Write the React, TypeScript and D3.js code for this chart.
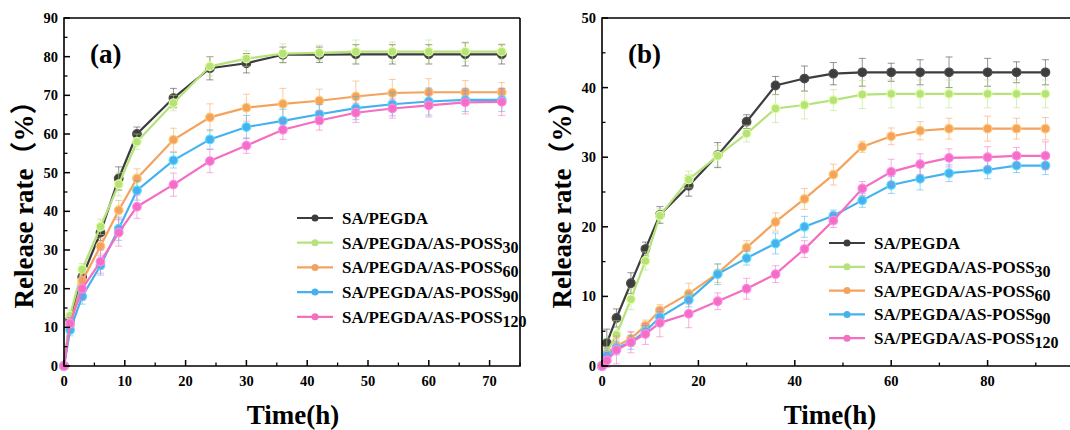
import React from 'react'
import * as d3 from 'd3'

// panel (a) data
const timeA = [0, 1, 3, 6, 9, 12, 18, 24, 30, 36, 42, 48, 54, 60, 66, 72]
const a0 = [0, 12, 23, 34.5, 48.5, 60, 69.3, 77, 78.3, 80.5, 80.5, 80.6, 80.6, 80.6, 80.6, 80.6]
const a30 = [0, 13, 25, 36, 47, 58, 68, 77.5, 79.5, 80.8, 81, 81.3, 81.3, 81.3, 81.3, 81.3]
const a60 = [0, 10.5, 22, 31, 40.3, 48.5, 58.5, 64.3, 66.8, 67.8, 68.6, 69.7, 70.6, 70.8, 70.8, 70.8]
const a90 = [0, 9.3, 18, 26, 35.5, 45.4, 53.2, 58.6, 61.8, 63.4, 65.1, 66.7, 67.7, 68.4, 68.8, 68.8]
const a120 = [0, 11, 20, 27, 34.5, 41.2, 46.9, 53, 57, 61.1, 63.5, 65.5, 66.6, 67.4, 68.2, 68.3]
const errA0 = [0, 1.5, 2, 2, 3, 1.8, 2.5, 3, 2.5, 2, 2, 2.5, 2.5, 2.5, 3, 2.5]
const errA30 = [0, 1.5, 1.5, 2, 3, 2, 2, 2.5, 2, 2.5, 2, 3, 2.5, 3, 2.5, 2]
const errA60 = [0, 2, 2, 2, 2.5, 2.5, 3, 3.5, 3.5, 4, 3, 4, 3.5, 3.5, 3, 2.5]
const errA90 = [0, 1.5, 2, 2.5, 3, 2.5, 2, 2.5, 3, 3, 2.5, 3, 3, 3.5, 3, 3]
const errA120 = [0, 1.5, 3, 3, 3.5, 3, 3, 3, 2, 2.5, 2.5, 2.5, 2.5, 3, 3, 3.5]

// panel (b) data
const timeB = [0, 1, 3, 6, 9, 12, 18, 24, 30, 36, 42, 48, 54, 60, 66, 72, 80, 86, 92]
const b0 = [0, 3.3, 6.9, 11.9, 16.8, 21.7, 25.9, 30.3, 35.1, 40.3, 41.3, 42, 42.2, 42.2, 42.2, 42.2, 42.2, 42.2, 42.2]
const b30 = [0, 2, 4.5, 9.6, 15.1, 21.6, 26.8, 30.2, 33.4, 37, 37.5, 38.2, 39, 39.1, 39.1, 39.1, 39.1, 39.1, 39.1]
const b60 = [0, 1.8, 2.9, 3.9, 5.8, 8, 10.4, 13.3, 17, 20.7, 24, 27.5, 31.5, 33, 33.8, 34.1, 34.1, 34.1, 34.1]
const b90 = [0, 1.5, 2.6, 3.4, 5, 7, 9.5, 13.2, 15.5, 17.6, 20, 21.6, 23.8, 26, 26.9, 27.7, 28.2, 28.8, 28.8]
const b120 = [0, 0.8, 2.3, 3.4, 4.6, 6.2, 7.5, 9.3, 11.1, 13.2, 16.8, 20.9, 25.5, 27.9, 29, 29.9, 30, 30.2, 30.2]
const errB0 = [0, 2, 1.3, 1.5, 1, 1.2, 1.5, 1.8, 1, 1.3, 1.8, 1.6, 2, 1.3, 1.8, 2.2, 2, 1.5, 1.8]
const errB30 = [0, 2, 2, 1.5, 1.3, 1, 1.2, 1.5, 1.2, 2, 2, 1.5, 2, 2, 2, 2, 2, 2, 2]
const errB60 = [0, 1, 1, 1, 0.8, 0.8, 1.5, 1.3, 1, 1.3, 1.5, 1.5, 0.8, 1.2, 1.3, 1.5, 1.8, 1.5, 1.6]
const errB90 = [0, 1, 1, 1, 0.8, 0.8, 1, 1.5, 1, 1.5, 1.5, 0.8, 1, 1.2, 1.6, 1.2, 1.3, 1, 1.3]
const errB120 = [0, 1, 2, 1.5, 1.5, 2, 2, 1.2, 1.5, 1.2, 1.2, 1, 1, 1.8, 1.5, 1.3, 1.5, 1.2, 2]

const seriesNames = ['', '30', '60', '90', '120']
const colors = ['#3d3d3d', '#b6e27c', '#f4a35e', '#45b2ef', '#f46ec2']

const ticksA_x = [0, 10, 20, 30, 40, 50, 60, 70]
const ticksA_y = [0, 10, 20, 30, 40, 50, 60, 70, 80, 90]
const ticksB_x = [0, 20, 40, 60, 80]
const ticksB_y = [0, 10, 20, 30, 40, 50]

const FONT = '"Liberation Serif", "Times New Roman", "Noto Sans CJK SC", serif'

type PanelProps = {
  label: string
  time: number[]
  series: number[][]
  errs: number[][]
  xDomain: [number, number]
  yDomain: [number, number]
  left: number
  right: number
  xTicks: number[]
  yTicks: number[]
  xMinorStep: number
  yMinorStep: number
  legendX: number
  legendY: number
  legendGap: number
  titleX: number
  xTitleX: number
}

const Panel = (p: PanelProps) => {
  const top = 18, bottom = 366
  const x = d3.scaleLinear().domain(p.xDomain).range([p.left, p.right])
  const y = d3.scaleLinear().domain(p.yDomain).range([bottom, top])
  const line = d3.line<[number, number]>().x(d => x(d[0])).y(d => y(d[1]))
  const xMinor = d3.range(p.xDomain[0], p.xDomain[1] + 0.001, p.xMinorStep).filter(v => !p.xTicks.includes(v))
  const yMinor = d3.range(p.yDomain[0], p.yDomain[1] + 0.001, p.yMinorStep).filter(v => !p.yTicks.includes(v))
  const frameRight = Math.min(p.right, 1075)

  return (
    <g fontFamily={FONT} fontWeight="bold">
      {/* series */}
      {p.series.map((vals, si) => (
        <g key={si}>
          {vals.map((v, i) => p.errs[si][i] > 0 && (
            <g key={i} stroke={colors[si]} strokeOpacity={0.55} strokeWidth={1}>
              <line x1={x(p.time[i])} x2={x(p.time[i])} y1={y(v - p.errs[si][i])} y2={y(v + p.errs[si][i])} />
              <line x1={x(p.time[i]) - 3.5} x2={x(p.time[i]) + 3.5} y1={y(v - p.errs[si][i])} y2={y(v - p.errs[si][i])} />
              <line x1={x(p.time[i]) - 3.5} x2={x(p.time[i]) + 3.5} y1={y(v + p.errs[si][i])} y2={y(v + p.errs[si][i])} />
            </g>
          ))}
          <path d={line(vals.map((v, i) => [p.time[i], v] as [number, number])) || ''} fill="none" stroke={colors[si]} strokeWidth={2.2} />
          {vals.map((v, i) => (
            <circle key={i} cx={x(p.time[i])} cy={y(v)} r={4.3} fill={colors[si]} stroke={d3.color(colors[si])!.brighter(0.6).toString()} strokeWidth={1.2} />
          ))}
        </g>
      ))}

      {/* frame */}
      <path d={`M${frameRight},${top}H${p.left}V${bottom}H${frameRight}${p.right <= 1075 ? `V${top}` : ''}`} fill="none" stroke="#000" strokeWidth={1.6} />

      {/* ticks */}
      {p.xTicks.map(t => (
        <g key={t}>
          <line x1={x(t)} x2={x(t)} y1={bottom} y2={bottom - 6} stroke="#000" strokeWidth={1.5} />
          <text x={x(t)} y={386} fontSize={14.5} textAnchor="middle">{t}</text>
        </g>
      ))}
      {xMinor.map(t => (
        <line key={t} x1={x(t)} x2={x(t)} y1={bottom} y2={bottom - 3.5} stroke="#000" strokeWidth={1.3} />
      ))}
      {p.yTicks.map(t => (
        <g key={t}>
          <line x1={p.left} x2={p.left + 6} y1={y(t)} y2={y(t)} stroke="#000" strokeWidth={1.5} />
          <text x={p.left - 6} y={y(t) + 5} fontSize={14.5} textAnchor="end">{t}</text>
        </g>
      ))}
      {yMinor.map(t => (
        <line key={t} x1={p.left} x2={p.left + 3.5} y1={y(t)} y2={y(t)} stroke="#000" strokeWidth={1.3} />
      ))}

      {/* titles */}
      <text transform={`translate(${p.titleX},198) rotate(-90)`} fontSize={27} textAnchor="middle" dominantBaseline="central">Release rate（%）</text>
      <text x={p.xTitleX} y={424} fontSize={27} textAnchor="middle">Time(h)</text>
      <text x={p.left + 26} y={63} fontSize={27}>{p.label}</text>

      {/* legend */}
      {seriesNames.map((n, i) => {
        const ly = p.legendY + i * p.legendGap
        return (
          <g key={i}>
            <line x1={p.legendX} x2={p.legendX + 36} y1={ly} y2={ly} stroke={colors[i]} strokeWidth={2.2} />
            <circle cx={p.legendX + 18} cy={ly} r={3.5} fill={colors[i]} />
            <text x={p.legendX + 45} y={ly + 6} fontSize={17}>
              {n === '' ? 'SA/PEGDA' : 'SA/PEGDA/AS-POSS'}
              {n !== '' && <tspan fontSize={16} dy={4}>{n}</tspan>}
            </text>
          </g>
        )
      })}
    </g>
  )
}

export default function App() {
  return (
    <svg width={1070} height={430} style={{ position: 'absolute', left: 0, top: 0, background: '#fff' }}>
      <rect width={1070} height={430} fill="#fff" />
      <Panel
        label="(a)"
        time={timeA}
        series={[a0, a30, a60, a90, a120]}
        errs={[errA0, errA30, errA60, errA90, errA120]}
        xDomain={[0, 75]}
        yDomain={[0, 90]}
        left={64}
        right={520}
        xTicks={ticksA_x}
        yTicks={ticksA_y}
        xMinorStep={5}
        yMinorStep={5}
        legendX={297}
        legendY={218}
        legendGap={24.7}
        titleX={24}
        xTitleX={293}
      />
      <Panel
        label="(b)"
        time={timeB}
        series={[b0, b30, b60, b90, b120]}
        errs={[errB0, errB30, errB60, errB90, errB120]}
        xDomain={[0, 100]}
        yDomain={[0, 50]}
        left={602}
        right={1084}
        xTicks={ticksB_x}
        yTicks={ticksB_y}
        xMinorStep={10}
        yMinorStep={5}
        legendX={829}
        legendY={243}
        legendGap={23.8}
        titleX={562}
        xTitleX={830}
      />
    </svg>
  )
}
